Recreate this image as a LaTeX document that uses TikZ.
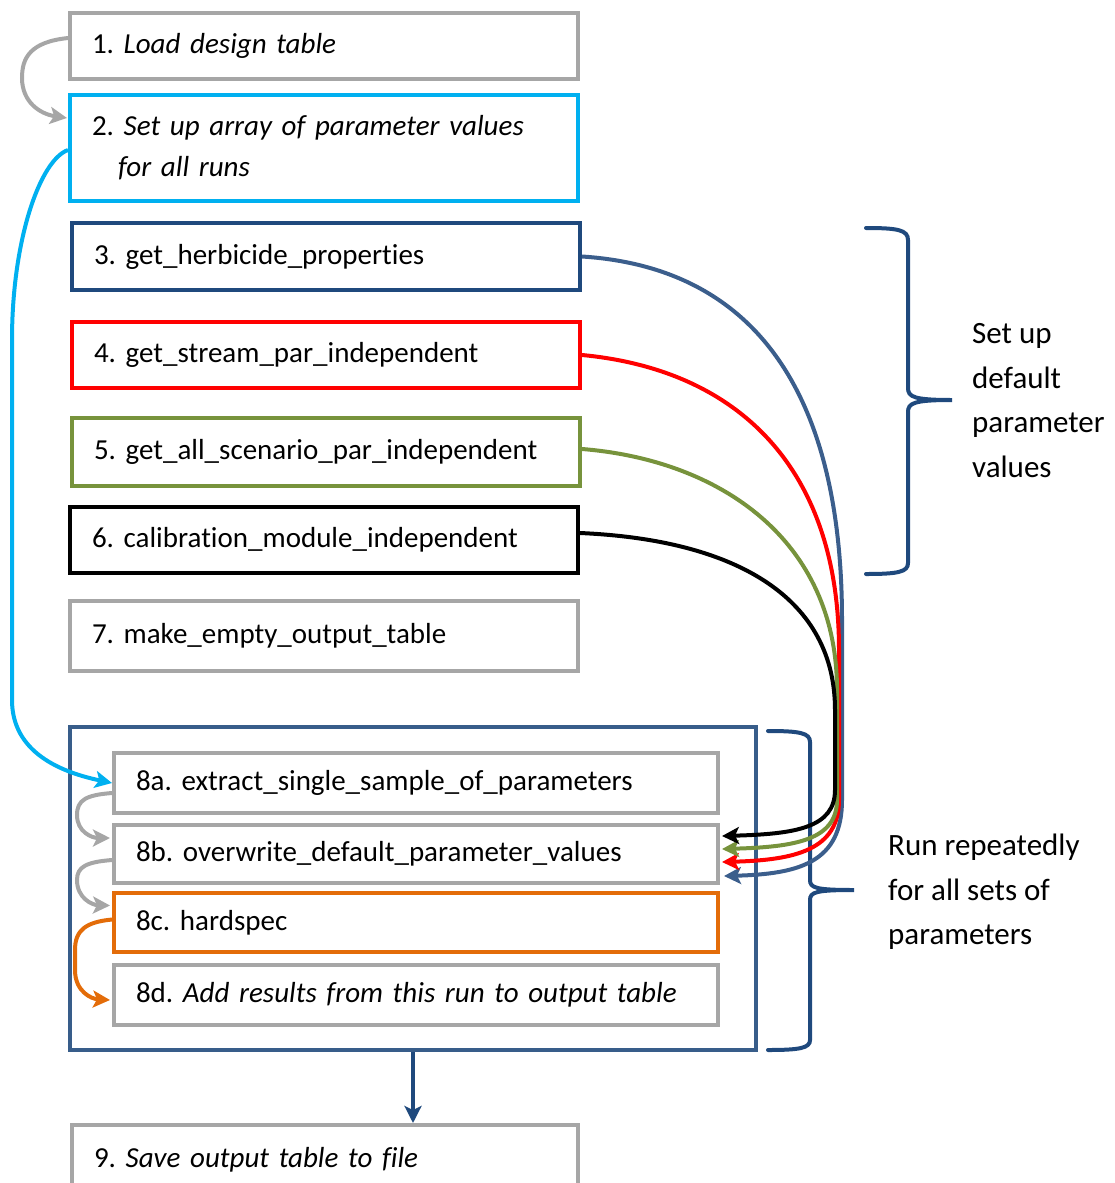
\documentclass[tikz,border=0pt]{standalone}
\usepackage{fontspec}
\setmainfont[Ligatures=NoCommon]{Carlito}
\usetikzlibrary{arrows.meta,calc}
\definecolor{cgray}{RGB}{166,166,166}
\definecolor{ccyan}{RGB}{0,176,240}
\definecolor{cdblue}{RGB}{31,73,125}
\definecolor{cblue}{RGB}{56,93,138}
\definecolor{ccurve}{RGB}{59,94,140}
\definecolor{cgreen}{RGB}{119,147,60}
\definecolor{corange}{RGB}{227,108,9}
\frenchspacing
\begin{document}
\begin{tikzpicture}[x=1pt,y=-1pt,
  box/.style={draw, line width=4pt, rectangle, inner xsep=22pt, inner ysep=0pt,
    align=left, font=\fontsize{29}{41}\selectfont\frenchspacing},
  bigbox/.style={box, text width=464pt},
  smallbox/.style={box, text width=560pt},
  conn/.style={line width=4pt, -{Stealth[length=17pt,width=17pt,inset=4pt]}},
  brace/.style={draw=cdblue, line width=4pt, line cap=round},
  side/.style={anchor=west, align=left, inner sep=0pt, font=\fontsize{31}{44.5}\selectfont}]
\useasboundingbox (0,0) rectangle (1114,1183);
\clip (0,0) rectangle (1114,1183);

\node[bigbox, draw=cgray, minimum height=66pt] (b1) at (324,46) {1. \textit{Load design table}};
\node[bigbox, draw=ccyan, minimum height=106pt] (b2) at (324,148)
  {2. \textit{Set up array of parameter values}\\\hspace*{26pt}\textit{for all runs}};
\node[bigbox, draw=cdblue, minimum height=67pt] (b3) at (326,256.5) {3. get\_herbicide\_properties};
\node[bigbox, draw=red, minimum height=66pt] (b4) at (326,355) {4. get\_stream\_par\_independent};
\node[bigbox, draw=cgreen, minimum height=68pt] (b5) at (326,452) {5. get\_all\_scenario\_par\_independent};
\node[bigbox, draw=black, minimum height=66pt] (b6) at (324,540) {6. calibration\_module\_independent};
\node[bigbox, draw=cgray, minimum height=70pt] (b7) at (324,636) {7. make\_empty\_output\_table};

\node[draw=cblue, line width=4pt, rectangle, minimum width=686pt, minimum height=323pt, inner sep=0pt] (b8) at (413,888.5) {};
\node[smallbox, draw=cgray, minimum height=60pt] (b8a) at (416,783) {8a. extract\_single\_sample\_of\_parameters};
\node[smallbox, draw=cgray, minimum height=58pt] (b8b) at (416,854) {8b. overwrite\_default\_parameter\_values};
\node[smallbox, draw=corange, minimum height=59pt] (b8c) at (416,922.5) {8c. hardspec};
\node[smallbox, draw=cgray, minimum height=60pt] (b8d) at (416,995) {8d. \textit{Add results from this run to output table}};

\node[box, text width=462pt, draw=cgray, minimum height=70pt] (b9) at (325,1160) {9. \textit{Save output table to file}};
\coordinate (b9top) at (b8.south |- b9.north);

\node[side] (t1) at (972,400.5) {Set up\\default\\parameter\\values};
\node[side] (t2) at (888,892) {Run repeatedly\\for all sets of\\parameters};

% braces
\draw[brace] (866,228) .. controls (898,228) and (908,230) .. (908,240) -- (908,388)
  .. controls (908,397) and (914,400) .. (952,400)
  .. controls (914,400) and (908,403) .. (908,412) -- (908,563)
  .. controls (908,572) and (898,574) .. (866,574);
\draw[brace] (768,731) .. controls (800,731) and (810,733) .. (810,742) -- (810,880)
  .. controls (810,888) and (816,890) .. (854,890)
  .. controls (816,890) and (810,892) .. (810,900) -- (810,1040)
  .. controls (810,1048) and (800,1050) .. (768,1050);

% connectors
\draw[conn, cgray] ($(b1.west)+(0,-8)$) .. controls (30,42) and (22,58) .. (22,78)
  .. controls (22,102) and (40,114) .. ($(b2.west)+(-1,-30)$);
\draw[conn, ccyan] ($(b2.west)+(0,2)$) .. controls (40,160) and (12,240) .. (12,340) -- (12,700)
  .. controls (12,752) and (60,772) .. ($(b8a.west)+(0,0)$);
\draw[conn, cgray] ($(b8a.west)+(0,10)$) .. controls (86,795) and (77,800) .. (77,815)
  .. controls (77,832) and (92,838) .. ($(b8b.west)+(-2,-16)$);
\draw[conn, cgray] ($(b8b.west)+(0,6)$) .. controls (86,862) and (77,867) .. (77,880)
  .. controls (77,898) and (92,905) .. ($(b8c.west)+(-2,-17)$);
\draw[conn, corange] ($(b8c.west)+(0,-3)$) .. controls (86,922) and (75,930) .. (75,950) -- (75,970)
  .. controls (75,992) and (92,999) .. ($(b8d.west)+(-2,5)$);

\draw[conn, ccurve] (b3.east) .. controls (760,268) and (842,400) .. (842,620) -- (842,800)
  .. controls (842,862) and (800,874) .. ($(b8b.east)+(4,22)$);
\draw[conn, red] (b4.east) .. controls (740,370) and (839,470) .. (839,650) -- (839,800)
  .. controls (839,850) and (795,860) .. ($(b8b.east)+(2,8)$);
\draw[conn, cgreen] ($(b5.east)+(0,-3)$) .. controls (720,460) and (837,540) .. (837,690) -- (837,800)
  .. controls (837,840) and (795,847) .. ($(b8b.east)+(2,-5)$);
\draw[conn, black] ($(b6.east)+(0,-7)$) .. controls (740,540) and (835,600) .. (835,710) -- (835,790)
  .. controls (835,828) and (795,834) .. ($(b8b.east)+(2,-18)$);

\draw[conn, cdblue] (b8.south) -- (b9top);
\end{tikzpicture}
\end{document}
